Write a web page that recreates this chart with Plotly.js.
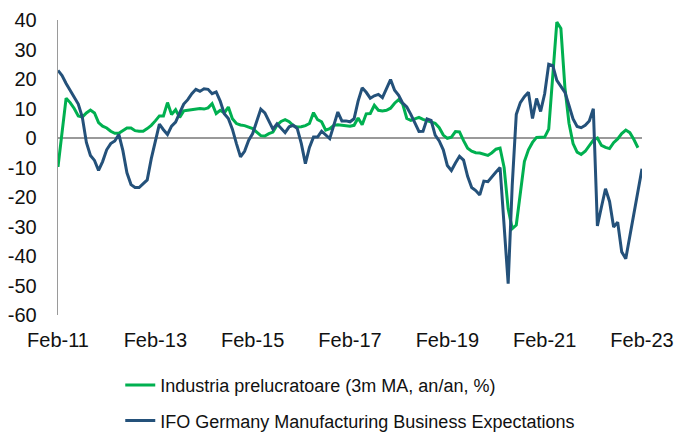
<!DOCTYPE html>
<html><head><meta charset="utf-8">
<script src="https://cdn.plot.ly/plotly-3.0.1.min.js"></script>
<style>html,body{margin:0;padding:0;background:#fff}#chart{width:676px;height:434px}</style>
</head><body><div id="chart"></div>
<script>
const monthNames = ['Jan','Feb','Mar','Apr','May','Jun','Jul','Aug','Sep','Oct','Nov','Dec'];
const startYear = 2011, startMonthIdx = 1, nMonths = 145;
const categories = [];
for (let i = 0; i < nMonths; i++) {
  const mi = startMonthIdx + i;
  const yr = startYear + Math.floor(mi / 12);
  categories.push(monthNames[mi % 12] + '-' + String(yr % 100).padStart(2, '0'));
}
const tickLabels = ['Feb-11','Feb-13','Feb-15','Feb-17','Feb-19','Feb-21','Feb-23'];
const yTickVals = [-60, -50, -40, -30, -20, -10, 0, 10, 20, 30, 40];
const yTickText = ['-60', '-50', '-40', '-30', '-20', '-10', '0', '10', '20', '30', '40'];

const seriesNames = ['Industria prelucratoare (3m MA, an/an, %)', 'IFO Germany Manufacturing Business Expectations'];

// Feb-11 .. Jan-23
const industria = [
 -9.8, 2, 13.5, 12, 10, 7.5, 7.1, 8.5, 9.5, 8.5, 5.2, 4,
 3.4, 2.3, 1.6, 1.6, 2.6, 3.4, 3.4, 2.5, 2.3, 2.3, 3.2, 4.3,
 5.8, 7.5, 7.5, 12, 8, 9.6, 7, 9.2, 9.4, 9.6, 10, 10,
 9.8, 10.2, 11.6, 8.3, 9.4, 8.5, 10.5, 6.5, 4.9, 4.4, 4.2, 3.7,
 3.2, 2, 0.8, 0.7, 1.5, 2, 4.3, 5.6, 6.2, 5.5, 4.2, 3.7,
 3.8, 4.2, 4.9, 8.6, 6.2, 5.5, 2.7, 3.2, 4.3, 4.5, 4.3, 4,
 4, 4.3, 6.8, 4.5, 8.2, 8.3, 11.1, 9.4, 9.2, 9.4, 10.1, 11.8,
 13, 11.5, 6.6, 6, 6.5, 7, 6.3, 5.8, 5.5, 5, 3.5, 1,
 -0.1, 0.3, 2.2, 2.1, -0.9, -3.5, -4.5, -5, -5.1, -5.4, -5.9, -5,
 -3.8, -3.4, -10, -24, -30.7, -29.5, -18, -8, -4, -1.5, 0.2, 0.2,
 0.3, 3, 20, 39.3, 37.1, 17, 5, -1.9, -4.8, -5.6, -4.5, -2.5,
 -0.7, 0, -2.5, -3.2, -3.6, -1.6, -0.3, 1.5, 2.7, 1.8, -0.5, -3.3
];

// Feb-11 .. Feb-23
const ifo = [
 22.9, 21.2, 18.5, 16.3, 14, 11.5, 7, -1.5, -5.9, -7.6, -11, -8,
 -4, -1.9, -1, 1.2, -4.3, -11.8, -15.8, -16.8, -16.8, -15.5, -14.2, -7,
 -1.5, 4.7, 2.8, 1.2, 4, 5.4, 8.5, 11.5, 13, 15, 16.5, 15.8,
 16.7, 16.5, 15, 15.6, 12.5, 8.2, 6.6, 3, -1.9, -6.4, -4.5, -0.8,
 1.5, 5.5, 9.8, 8.5, 5.5, 3, 4.8, 3.2, 1.8, 3.8, 4.3, 3.2,
 -1.9, -8.7, -3.2, 0.3, 0.3, 2.3, 1.2, -0.2, 4.3, 8.8, 5.8, 5.8,
 5.5, 6.5, 12.5, 17, 15.5, 13.5, 14.3, 14.8, 13.7, 17, 19.8, 16.2,
 14.5, 11.8, 10.5, 8, 5, 2.2, 2.3, 6.5, 6, 1, -1, -4,
 -9.3, -11, -8.5, -6.2, -7.5, -13, -16.8, -17.8, -19.3, -14.6, -14.8, -13,
 -11.5, -10, -30, -49.4, -16, 8, 12, 14, 15.5, 6.6, 13.4, 9,
 15, 25, 24.5, 19.5, 17.5, 15.5, 11, 6.5, 3.9, 3.5, 4.3, 5.8,
 9.9, -29.8, -23.4, -17.2, -21.5, -30.2, -28.5, -38.6, -40.9, -33, -25.5, -18,
 -10.4
];

const traces = [
  {x: categories.slice(0, industria.length), y: industria, name: seriesNames[0], type: 'scatter', mode: 'lines',
   line: {color: '#00B050', width: 3}, legendgroup: 'a', hoverinfo: 'skip'},
  {x: categories.slice(0, ifo.length), y: ifo, name: seriesNames[1], type: 'scatter', mode: 'lines',
   line: {color: '#24517a', width: 3}, legendgroup: 'b', hoverinfo: 'skip'}
];

const layout = {
  width: 676, height: 434,
  margin: {l: 58, r: 34, t: 20, b: 119, autoexpand: false},
  paper_bgcolor: '#fff', plot_bgcolor: '#fff',
  font: {family: '"Liberation Sans", Arial, sans-serif', color: '#111'},
  showlegend: true,
  legend: {orientation: 'v', x: 0.1066, xanchor: 'left', y: -0.176, yanchor: 'top',
           font: {size: 18, color: '#111'}, traceorder: 'grouped', tracegroupgap: 9,
           bgcolor: 'rgba(0,0,0,0)'},
  xaxis: {type: 'category', range: [0, 144], tickmode: 'array', tickvals: tickLabels, ticktext: tickLabels,
          showgrid: false, zeroline: false, showline: false, ticks: '', automargin: false,
          tickfont: {size: 20, color: '#111'}, ticklabelstandoff: 11, fixedrange: true},
  yaxis: {range: [-60, 40], tickmode: 'array', tickvals: yTickVals, ticktext: yTickText,
          showgrid: false, zeroline: true, zerolinecolor: '#9a9a9a', zerolinewidth: 1.3,
          showline: true, linecolor: '#9a9a9a', linewidth: 1.3, ticks: '', automargin: false,
          tickfont: {size: 20, color: '#111'}, ticklabelstandoff: 16, fixedrange: true}
};

Plotly.newPlot('chart', traces, layout, {displayModeBar: false, staticPlot: true});
</script></body></html>
